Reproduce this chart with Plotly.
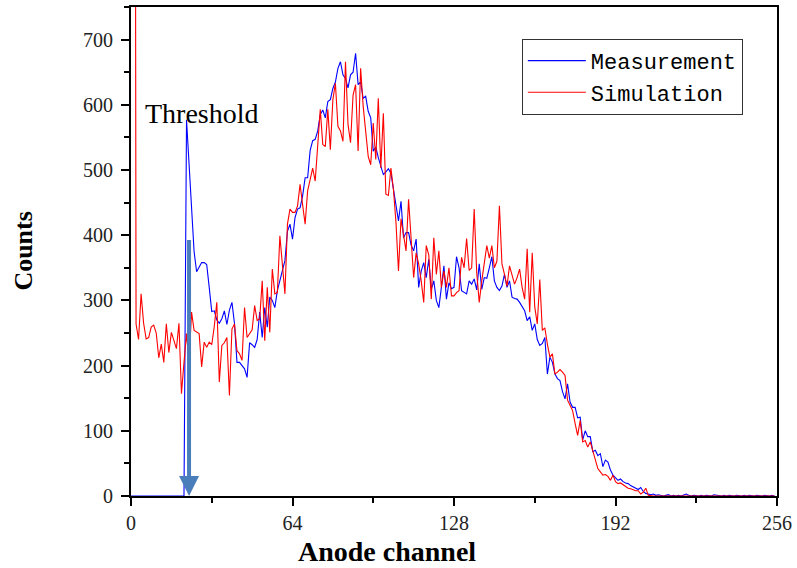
import plotly.graph_objects as go

channels = list(range(256))

measurement = [
    0, 0, 0, 0, 0, 0, 0, 0, 0, 0,
    0, 0, 0, 0, 0, 0, 0, 0, 0, 0,
    0, 0, 577, 510, 440, 375, 344, 352, 358, 358,
    355, 320, 283, 284, 270, 265, 272, 284, 263, 285,
    297, 265, 205, 205, 200, 195, 182, 235, 232, 228,
    240, 282, 243, 289, 259, 305, 300, 289, 315, 330,
    345, 361, 406, 417, 394, 427, 440, 442, 460, 488,
    488, 530, 545, 547, 560, 585, 592, 580, 605, 608,
    625, 635, 656, 666, 646, 640, 626, 646, 650, 679,
    631, 635, 610, 613, 590, 580, 529, 535, 519, 505,
    493, 497, 502, 495, 470, 447, 422, 452, 396, 404,
    404, 385, 376, 394, 320, 345, 358, 335, 363, 317,
    330, 300, 289, 320, 353, 302, 327, 318, 320, 367,
    350, 315, 312, 310, 330, 325, 333, 316, 356, 317,
    335, 334, 350, 367, 330, 320, 315, 322, 340, 320,
    330, 305, 303, 302, 297, 290, 284, 269, 275, 254,
    264, 240, 231, 234, 243, 187, 213, 205, 187, 180,
    177, 160, 149, 172, 144, 136, 136, 120, 121, 86,
    100, 91, 91, 68, 70, 62, 65, 45, 55, 52,
    40, 32, 28, 24, 26, 22, 20, 19, 16, 14,
    12, 10, 13, 7, 4, 3, 2, 3, 1, 2,
    1, 0, 1, 2, 0, 1, 0, 1, 0, 2,
    3, 1, 0, 1, 0, 0, 1, 0, 1, 0,
    0, 2, 1, 0, 0, 1, 0, 1, 0, 0,
    1, 0, 0, 1, 0, 1, 0, 0, 1, 0,
    0, 1, 0, 0, 1, 0,
]

simulation = [
    3000, 3000, 264, 240, 310, 265, 241, 243, 259, 262,
    250, 212, 233, 205, 264, 220, 251, 240, 226, 265,
    157, 205, 249, 205, 282, 254, 252, 249, 198, 236,
    228, 236, 232, 260, 297, 175, 231, 235, 243, 154,
    256, 264, 223, 218, 208, 289, 243, 250, 255, 292,
    269, 272, 330, 238, 320, 251, 348, 310, 312, 399,
    350, 310, 417, 440, 435, 435, 445, 478, 447, 417,
    468, 485, 503, 483, 540, 593, 539, 536, 593, 531,
    608, 633, 567, 560, 544, 666, 570, 542, 615, 631,
    529, 656, 598, 560, 521, 508, 572, 516, 610, 503,
    587, 463, 461, 503, 470, 420, 345, 425, 400, 376,
    455, 390, 335, 373, 356, 330, 297, 384, 370, 302,
    396, 340, 376, 320, 345, 320, 350, 307, 307, 312,
    315, 366, 350, 395, 346, 350, 440, 343, 297, 330,
    355, 384, 365, 384, 350, 360, 445, 356, 340, 322,
    353, 340, 325, 335, 348, 320, 302, 379, 282, 373,
    290, 264, 332, 254, 258, 233, 213, 218, 187, 190,
    194, 190, 185, 147, 140, 131, 111, 93, 116, 83,
    85, 75, 83, 70, 55, 42, 37, 32, 33, 30,
    24, 32, 22, 19, 20, 17, 14, 12, 11, 9,
    8, 8, 3, 6, 12, 1, 0, 0, 0, 0,
] + [0] * 46

x_tick_vals = [0, 64, 128, 192, 256]
x_tick_text = ["0", "64", "128", "192", "256"]
threshold_channel = 23
threshold_top = 395

fig = go.Figure()
fig.add_trace(go.Scatter(x=channels, y=measurement, mode="lines", name="Measurement",
                         line=dict(color="#0000ff", width=1.1)))
fig.add_trace(go.Scatter(x=channels, y=simulation, mode="lines", name="Simulation",
                         line=dict(color="#ff0000", width=1.1)))

fig.add_annotation(x=threshold_channel, y=0, ax=threshold_channel, ay=threshold_top,
                   xref="x", yref="y", axref="x", ayref="y", text="", showarrow=True,
                   arrowhead=2, arrowsize=1.0, arrowwidth=4, arrowcolor="#4a7ebb", standoff=0)
fig.add_annotation(x=4.7, y=586, xref="x", yref="y", text="Threshold", showarrow=False,
                   xanchor="left", yanchor="middle",
                   font=dict(family="Liberation Serif", size=28, color="black"))

fig.add_annotation(x=0.397, y=-0.114, xref="paper", yref="paper", text="<b>Anode channel</b>",
                   showarrow=False, xanchor="center", yanchor="middle",
                   font=dict(family="Liberation Serif", size=28, color="black"))
fig.add_annotation(x=-0.167, y=0.5, xref="paper", yref="paper", text="<b>Counts</b>",
                   showarrow=False, xanchor="center", yanchor="middle", textangle=-90,
                   font=dict(family="Liberation Serif", size=26, color="black"))

axis_common = dict(showgrid=False, zeroline=False, showline=True, linecolor="black", linewidth=2,
                   mirror=True, ticks="outside", tickcolor="black", tickwidth=2, ticklen=8,
                   tickfont=dict(family="Liberation Serif", size=20, color="#222222"),
                   layer="below traces")

fig.update_xaxes(range=[0, 256], tickvals=x_tick_vals, ticktext=x_tick_text,
                 minor=dict(ticks="outside", dtick=32, tick0=0, ticklen=5, tickwidth=2, tickcolor="black"),
                 ticklabelstandoff=0, **axis_common)
fig.update_yaxes(range=[0, 750], dtick=100, tick0=0,
                 minor=dict(ticks="outside", dtick=50, tick0=0, ticklen=5, tickwidth=2, tickcolor="black"),
                 ticklabelstandoff=4, **axis_common)

fig.update_layout(
    width=797, height=568,
    margin=dict(l=131, r=18, t=5, b=72),
    plot_bgcolor="white", paper_bgcolor="white",
    showlegend=True,
    legend=dict(x=0.605, y=0.935, xanchor="left", yanchor="top",
                bordercolor="#333333", borderwidth=1, bgcolor="white",
                font=dict(family="Liberation Mono", size=22, color="black"),
                itemwidth=58, tracegroupgap=0),
)

fig.write_html("out.html", config={"displayModeBar": False},
               post_script="document.body.style.margin='0';document.body.style.overflow='hidden';")
